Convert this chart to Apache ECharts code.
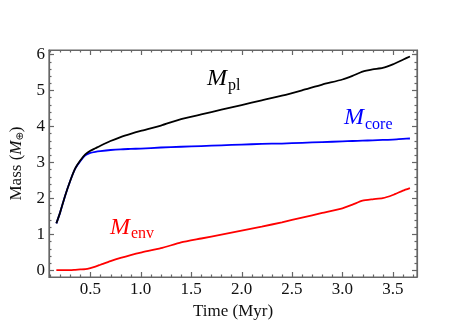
<!DOCTYPE html>
<html>
<head>
<meta charset="utf-8">
<script src="https://cdn.jsdelivr.net/npm/echarts@6/dist/echarts.min.js"></script>
<style>
  html, body { margin: 0; padding: 0; background: #fff; }
  #main { width: 467px; height: 327px; }
</style>
</head>
<body>
<div id="main"></div>
<script>
// time (Myr)
var times = [0.163, 0.2, 0.25, 0.3, 0.35, 0.4, 0.45, 0.5, 0.55, 0.6, 0.7, 0.8, 0.9, 1.0,
  1.2, 1.4, 1.6, 1.8, 2.0, 2.2, 2.4, 2.6, 2.8, 3.0, 3.1, 3.2, 3.3, 3.4, 3.5, 3.6, 3.67];
// masses (Earth masses)
var mPl = [1.30, 1.60, 2.07, 2.48, 2.83, 3.05, 3.22, 3.32, 3.39, 3.46, 3.59, 3.70, 3.79, 3.87,
  4.02, 4.20, 4.33, 4.46, 4.59, 4.72, 4.85, 5.00, 5.16, 5.30, 5.40, 5.52, 5.58, 5.62, 5.72, 5.85, 5.94];
var mCore = [1.30, 1.60, 2.07, 2.48, 2.82, 3.03, 3.19, 3.26, 3.29, 3.31, 3.34, 3.36, 3.37, 3.38,
  3.41, 3.43, 3.45, 3.47, 3.49, 3.51, 3.52, 3.54, 3.56, 3.58, 3.59, 3.60, 3.61, 3.62, 3.63, 3.65, 3.66];
var mEnv = [0.00, 0.00, 0.00, 0.00, 0.01, 0.02, 0.03, 0.06, 0.10, 0.15, 0.25, 0.34, 0.42, 0.49,
  0.61, 0.77, 0.88, 0.99, 1.10, 1.21, 1.33, 1.46, 1.59, 1.72, 1.82, 1.93, 1.97, 2.00, 2.09, 2.21, 2.28];

var xMajor = [0.5, 1.0, 1.5, 2.0, 2.5, 3.0, 3.5];
var xMinor = [0.1, 0.2, 0.3, 0.4, 0.6, 0.7, 0.8, 0.9, 1.1, 1.2, 1.3, 1.4, 1.6, 1.7, 1.8, 1.9,
  2.1, 2.2, 2.3, 2.4, 2.6, 2.7, 2.8, 2.9, 3.1, 3.2, 3.3, 3.4, 3.6, 3.7];
var yMajor = [0, 1, 2, 3, 4, 5, 6];
var yMinor = [0.2, 0.4, 0.6, 0.8, 1.2, 1.4, 1.6, 1.8, 2.2, 2.4, 2.6, 2.8, 3.2, 3.4, 3.6, 3.8,
  4.2, 4.4, 4.6, 4.8, 5.2, 5.4, 5.6, 5.8, 6.0];

var serif = 'Liberation Serif';
var xMin = 0.09, xMax = 3.74, yMin = -0.19, yMax = 6.12;

function pairs(ys) {
  return times.map(function(t, i) { return [t, ys[i]]; });
}

// frame ticks: [x, y, direction(0 = tick on x frame, 1 = tick on y frame), length]
var tickData = [];
xMajor.forEach(function(v) { tickData.push([v, yMin, 0, 5]); });
xMinor.forEach(function(v) { tickData.push([v, yMin, 0, 2.5]); });
yMajor.forEach(function(v) { tickData.push([xMin, v, 1, 5]); });
yMinor.forEach(function(v) { tickData.push([xMin, v, 1, 2.5]); });

function renderTick(params, api) {
  var cs = params.coordSys;
  var p = api.coord([api.value(0), api.value(1)]);
  var len = api.value(3);
  var style = { stroke: '#666666', lineWidth: 1.2, fill: null };
  var a, b;
  if (api.value(2) === 0) {
    var x = Math.round(p[0]) + 0.5;
    a = { x1: x, y1: cs.y + cs.height, x2: x, y2: cs.y + cs.height - len };
    b = { x1: x, y1: cs.y, x2: x, y2: cs.y + len };
  } else {
    var y = Math.round(p[1]) + 0.5;
    a = { x1: cs.x, y1: y, x2: cs.x + len, y2: y };
    b = { x1: cs.x + cs.width, y1: y, x2: cs.x + cs.width - len, y2: y };
  }
  return {
    type: 'group',
    children: [
      { type: 'line', shape: a, style: style },
      { type: 'line', shape: b, style: style }
    ]
  };
}

var chart = echarts.init(document.getElementById('main'));

var option = {
  animation: false,
  grid: { left: 49, top: 50, width: 368, height: 227, show: true,
    borderColor: '#666666', borderWidth: 1.2 },
  xAxis: [{
    type: 'value', min: xMin, max: xMax, position: 'bottom',
    axisLine: { show: true, onZero: false, lineStyle: { color: '#666666', width: 1.2 } },
    axisTick: { show: false },
    axisLabel: {
      show: true, customValues: xMajor, margin: 4,
      fontFamily: serif, fontSize: 17, color: '#111',
      formatter: function(v) { return v.toFixed(1); }
    },
    splitLine: { show: false },
    name: 'Time (Myr)', nameLocation: 'middle', nameGap: 25,
    nameTextStyle: { fontFamily: serif, fontSize: 17, color: '#111' }
  }, {
    type: 'value', min: xMin, max: xMax, position: 'top',
    axisLine: { show: true, onZero: false, lineStyle: { color: '#666666', width: 1.2 } },
    axisTick: { show: false }, axisLabel: { show: false }, splitLine: { show: false }
  }],
  yAxis: [{
    type: 'value', min: yMin, max: yMax, position: 'left',
    axisLine: { show: true, onZero: false, lineStyle: { color: '#666666', width: 1.2 } },
    axisTick: { show: false },
    axisLabel: {
      show: true, customValues: yMajor, margin: 4,
      fontFamily: serif, fontSize: 17, color: '#111'
    },
    splitLine: { show: false },
    name: 'Mass ({i|M}{s|⊕})', nameLocation: 'middle', nameGap: 21,
    nameTextStyle: {
      fontFamily: serif, fontSize: 17, color: '#111',
      rich: {
        i: { fontFamily: serif, fontSize: 17, fontStyle: 'italic', color: '#111' },
        s: { fontFamily: 'DejaVu Sans', fontSize: 10, color: '#111', padding: [8, 0, 0, 0] }
      }
    }
  }, {
    type: 'value', min: yMin, max: yMax, position: 'right',
    axisLine: { show: true, onZero: false, lineStyle: { color: '#666666', width: 1.2 } },
    axisTick: { show: false }, axisLabel: { show: false }, splitLine: { show: false }
  }],
  series: [
    { name: 'ticks', type: 'custom', data: tickData, renderItem: renderTick,
      silent: true, clip: false, z: 1 },
    { name: 'env', type: 'line', data: pairs(mEnv), showSymbol: false, smooth: 0.2,
      lineStyle: { color: '#ff0000', width: 1.8 }, z: 3 },
    { name: 'core', type: 'line', data: pairs(mCore), showSymbol: false, smooth: 0.2,
      lineStyle: { color: '#0000ff', width: 1.8 }, z: 3 },
    { name: 'pl', type: 'line', data: pairs(mPl), showSymbol: false, smooth: 0.2,
      lineStyle: { color: '#000000', width: 1.8 }, z: 3 }
  ],
  graphic: [
    { type: 'text', left: 207, top: 67, style: { text: 'M', font: 'italic 24px "Liberation Serif"', fill: '#000' } },
    { type: 'text', left: 228, top: 78, style: { text: 'pl', font: '16px "Liberation Serif"', fill: '#000' } },
    { type: 'text', left: 344, top: 106, style: { text: 'M', font: 'italic 24px "Liberation Serif"', fill: '#0000ff' } },
    { type: 'text', left: 365, top: 117, style: { text: 'core', font: '16px "Liberation Serif"', fill: '#0000ff' } },
    { type: 'text', left: 110, top: 216, style: { text: 'M', font: 'italic 24px "Liberation Serif"', fill: '#ff0000' } },
    { type: 'text', left: 131, top: 226, style: { text: 'env', font: '16px "Liberation Serif"', fill: '#ff0000' } }
  ]
};

chart.setOption(option);
</script>
</body>
</html>
